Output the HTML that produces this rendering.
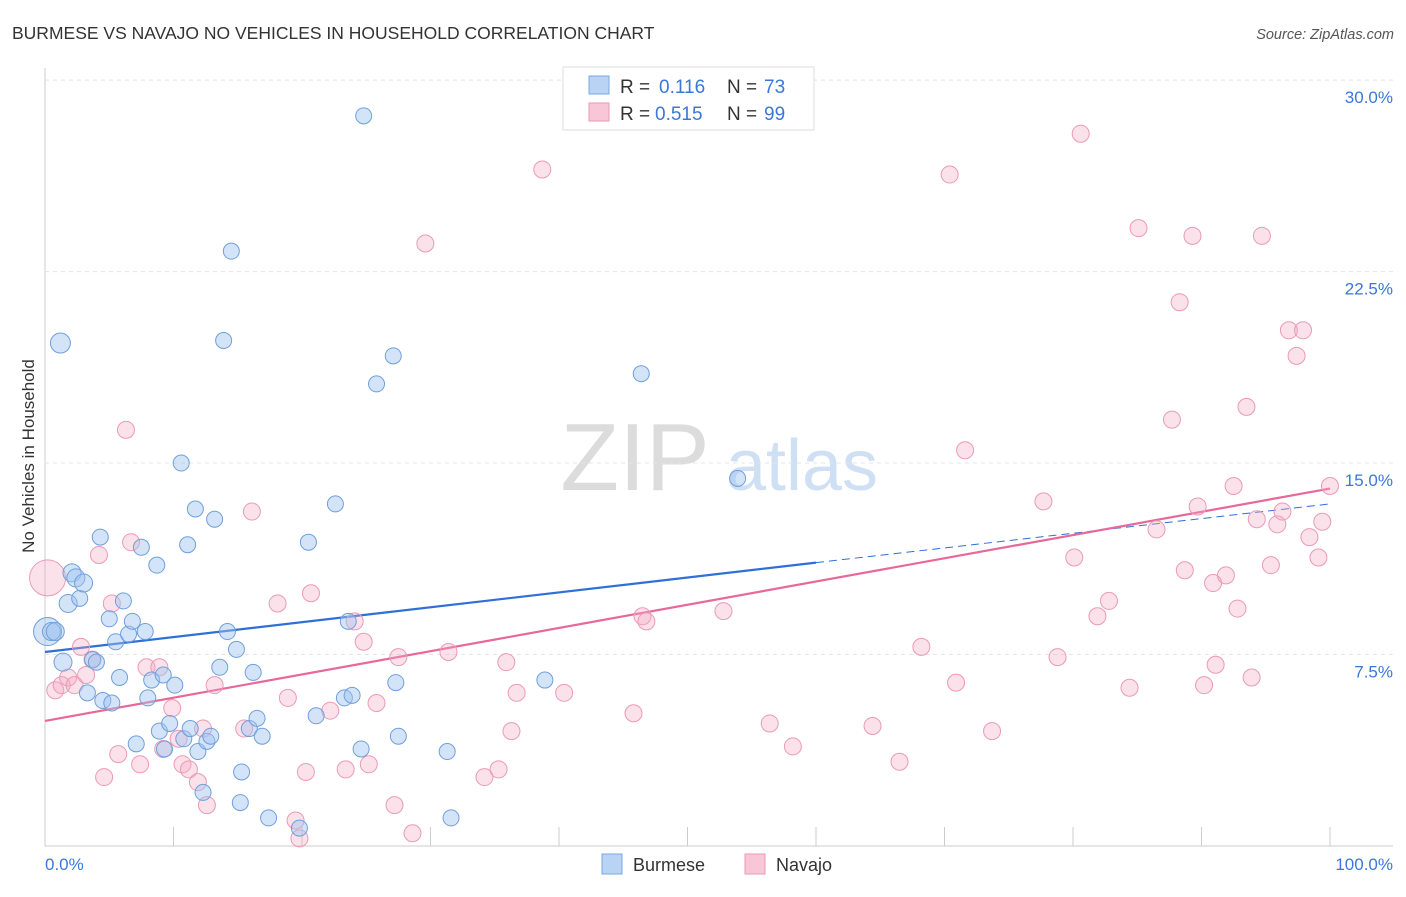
<!DOCTYPE html>
<html><head><meta charset="utf-8"><style>
body{margin:0;background:#fff;font-family:"Liberation Sans",sans-serif;}
svg text{font-family:"Liberation Sans",sans-serif;}
</style></head><body>
<svg id="chart" width="1406" height="892" viewBox="0 0 1406 892" xmlns="http://www.w3.org/2000/svg">
<text x="12" y="39" font-size="17.5" fill="#333">BURMESE VS NAVAJO NO VEHICLES IN HOUSEHOLD CORRELATION CHART</text>
<text x="1394" y="39" font-size="14.5" fill="#555" font-style="italic" text-anchor="end">Source: ZipAtlas.com</text>
<text transform="translate(34,456) rotate(-90)" font-size="17" fill="#333" text-anchor="middle">No Vehicles in Household</text>
<g>
<text x="635" y="490" font-size="96" fill="#dcdcdc" font-family="Liberation Serif" text-anchor="middle">ZIP</text>
<text x="802" y="490" font-size="72" fill="#cfe0f5" text-anchor="middle">atlas</text>
</g>
<g id="grid"></g>
<g id="trend"></g>
<g id="points"></g>
<g>
<rect x="563" y="67" width="251" height="63" fill="#fff" stroke="#ddd"/>
<rect x="589" y="76" width="20" height="18" fill="#b8d3f3" stroke="#7aa8e0"/>
<text x="620" y="93" font-size="19" fill="#333">R = </text><text x="659" y="93" font-size="19" fill="#3a78d8">0.116</text>
<text x="727" y="93" font-size="19" fill="#333">N = </text><text x="764" y="93" font-size="19" fill="#3a78d8">73</text>
<rect x="589" y="103" width="20" height="18" fill="#f8c6d6" stroke="#eb9ab5"/>
<text x="620" y="120" font-size="19" fill="#333">R = </text><text x="655" y="120" font-size="19" fill="#3a78d8">0.515</text>
<text x="727" y="120" font-size="19" fill="#333">N = </text><text x="764" y="120" font-size="19" fill="#3a78d8">99</text>
</g>
<g>
<rect x="602" y="854" width="20" height="20" fill="#b8d3f3" stroke="#7aa8e0"/>
<text x="633" y="871" font-size="18" fill="#333">Burmese</text>
<rect x="745" y="854" width="20" height="20" fill="#f8c6d6" stroke="#eb9ab5"/>
<text x="776" y="871" font-size="18" fill="#333">Navajo</text>
</g>
<text x="45" y="870" font-size="17" fill="#3a78d8">0.0%</text>
<text x="1393" y="870" font-size="17" fill="#3a78d8" text-anchor="end">100.0%</text>
</svg>
<script>
const yTicks=[7.5,15,22.5,30];
const yTickLabels=["7.5%","15.0%","22.5%","30.0%"];
const xTicks=[0,10,20,30,40,50,60,70,80,90,100];
const burmeseX=[0.2,0.5,0.8,1.2,1.4,1.8,2.1,2.4,2.7,3.0,3.3,3.7,4.0,4.3,4.5,5.0,5.2,5.5,5.8,6.1,6.5,6.8,7.1,7.5,7.8,8.0,8.3,8.7,8.9,9.2,9.3,9.7,10.1,10.6,10.8,11.1,11.3,11.7,11.9,12.3,12.6,12.9,13.2,13.6,13.9,14.2,14.5,14.9,15.2,15.3,15.9,16.2,16.5,16.9,17.4,19.8,20.5,21.1,22.6,23.6,23.3,23.9,24.6,24.8,25.8,27.1,27.3,27.5,31.3,31.6,38.9,46.4,53.9];
const burmeseY=[8.4,8.4,8.4,19.7,7.2,9.5,10.7,10.5,9.7,10.3,6.0,7.3,7.2,12.1,5.7,8.9,5.6,8.0,6.6,9.6,8.3,8.8,4.0,11.7,8.4,5.8,6.5,11.0,4.5,6.7,3.8,4.8,6.3,15.0,4.2,11.8,4.6,13.2,3.7,2.1,4.1,4.3,12.8,7.0,19.8,8.4,23.3,7.7,1.7,2.9,4.6,6.8,5.0,4.3,1.1,0.7,11.9,5.1,13.4,8.8,5.8,5.9,3.8,28.6,18.1,19.2,6.4,4.3,3.7,1.1,6.5,18.5,14.4];
const burmeseR=[14,9,9,10,9,9,9,9,8,9,8,8,8,8,8,8,8,8,8,8,8,8,8,8,8,8,8,8,8,8,8,8,8,8,8,8,8,8,8,8,8,8,8,8,8,8,8,8,8,8,8,8,8,8,8,8,8,8,8,8,8,8,8,8,8,8,8,8,8,8,8,8,8];
const navajoX=[0.2,0.8,1.3,1.8,2.3,2.8,3.2,3.7,4.2,4.6,5.2,5.7,6.3,6.7,7.4,7.9,8.9,9.2,9.9,10.4,10.7,11.2,11.9,12.3,12.6,13.2,15.5,16.1,18.1,18.9,19.5,19.8,20.3,20.7,22.2,23.4,24.1,24.8,25.2,25.8,27.2,27.5,28.6,29.6,31.4,34.2,35.3,35.9,36.3,36.7,38.7,40.4,45.8,46.5,46.8,52.8,56.4,58.2,64.4,66.5,68.2,70.4,70.9,71.6,73.7,77.7,78.8,80.1,80.6,81.9,82.8,84.4,85.1,86.5,87.7,88.3,88.7,89.3,89.7,90.2,90.9,91.1,91.9,92.5,92.8,93.5,93.9,94.3,94.7,95.4,95.9,96.3,96.8,97.4,97.9,98.4,99.1,99.4,100.0];
const navajoY=[10.5,6.1,6.3,6.6,6.3,7.8,6.7,7.3,11.4,2.7,9.5,3.6,16.3,11.9,3.2,7.0,7.0,3.8,5.4,4.2,3.2,3.0,2.5,4.6,1.6,6.3,4.6,13.1,9.5,5.8,1.0,0.3,2.9,9.9,5.3,3.0,8.8,8.0,3.2,5.6,1.6,7.4,0.5,23.6,7.6,2.7,3.0,7.2,4.5,6.0,26.5,6.0,5.2,9.0,8.8,9.2,4.8,3.9,4.7,3.3,7.8,26.3,6.4,15.5,4.5,13.5,7.4,11.3,27.9,9.0,9.6,6.2,24.2,12.4,16.7,21.3,10.8,23.9,13.3,6.3,10.3,7.1,10.6,14.1,9.3,17.2,6.6,12.8,23.9,11.0,12.6,13.1,20.2,19.2,20.2,12.1,11.3,12.7,14.1];
const burmeseTrend=[[0,7.6],[60,11.1],[100,13.4]];
const navajoTrend=[[0,4.9],[100,14.0]];

const X0=45,X1=1330,Y0=846,YPX=25.53;
function sx(v){return X0+(X1-X0)*v/100;}
function sy(v){return Y0-v*YPX;}
const NS="http://www.w3.org/2000/svg";
function mk(tag,attrs,parent){const e=document.createElementNS(NS,tag);for(const k in attrs)e.setAttribute(k,attrs[k]);parent.appendChild(e);return e;}
const grid=document.getElementById('grid');
let ax=mk('line',{x1:X0,y1:68,x2:X0,y2:Y0,stroke:'#ccc'},grid);


let bx=mk('line',{x1:X0,y1:Y0,x2:1393,y2:Y0,stroke:'#ccc'},grid);


yTicks.forEach((t,i)=>{
 const g=mk('line',{x1:X0,y1:sy(t),x2:1393,y2:sy(t),stroke:'#e4e4e4','stroke-dasharray':'4,4'},grid);
 
 
 const tx=mk('text',{x:1393,y:sy(t)+23,'font-size':17,fill:'#3a78d8','text-anchor':'end'},grid);
 tx.textContent=yTickLabels[i];
 
 
});
xTicks.forEach(t=>{
 const l=mk('line',{x1:sx(t),y1:Y0,x2:sx(t),y2:Y0-19,stroke:'#ccc'},grid);
 
 
});
const pts=document.getElementById('points');
navajoX.forEach((x,i)=>{
 const c=mk('circle',{cx:sx(x),cy:sy(navajoY[i]),r:i===0?18:8.5,fill:'rgba(244,168,195,0.35)',stroke:'#eb9ab5','stroke-width':1},pts);
 
 
});
burmeseX.forEach((x,i)=>{
 const c=mk('circle',{cx:sx(x),cy:sy(burmeseY[i]),r:burmeseR[i],fill:'rgba(160,196,240,0.45)',stroke:'#6f9fdc','stroke-width':1},pts);
 
 
});
const tr=document.getElementById('trend');
let b1=mk('line',{x1:sx(burmeseTrend[0][0]),y1:sy(burmeseTrend[0][1]),x2:sx(burmeseTrend[1][0]),y2:sy(burmeseTrend[1][1]),stroke:'#2f6fd6','stroke-width':2.2},tr);


let b2=mk('line',{x1:sx(burmeseTrend[1][0]),y1:sy(burmeseTrend[1][1]),x2:sx(burmeseTrend[2][0]),y2:sy(burmeseTrend[2][1]),stroke:'#2f6fd6','stroke-width':1,'stroke-dasharray':'8,5'},tr);


let n1=mk('line',{x1:sx(navajoTrend[0][0]),y1:sy(navajoTrend[0][1]),x2:sx(navajoTrend[1][0]),y2:sy(navajoTrend[1][1]),stroke:'#e8689a','stroke-width':2.2},tr);


</script>
</body></html>
